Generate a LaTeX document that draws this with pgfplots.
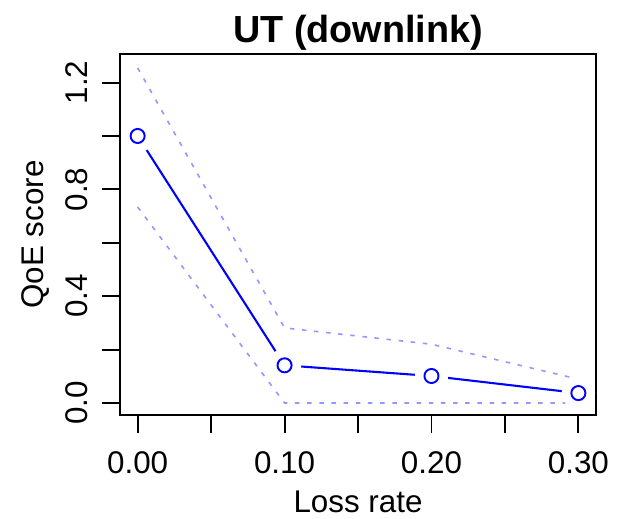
\documentclass[border=0pt]{standalone}
\usepackage{pgfplots}
\pgfplotsset{compat=1.18}
\usepackage{fontspec}
\setmainfont{Liberation Sans}
\definecolor{rblue}{RGB}{0,0,255}
\definecolor{lblue}{RGB}{150,150,255}
\begin{document}
\begin{tikzpicture}
\begin{axis}[
  scale only axis,
  width=148.75pt, height=112.8pt,
  xmin=-0.012, xmax=0.312,
  ymin=-0.045, ymax=1.307,
  axis on top,
  axis line style={line width=0.6pt},
  every tick/.style={line width=0.6pt, black},
  tick align=outside,
  major tick length=5.6pt,
  xtick pos=left, ytick pos=left,
  xtick={0,0.05,0.1,0.15,0.2,0.25,0.3},
  xticklabels={0.00,,0.10,,0.20,,0.30},
  ytick={0,0.2,0.4,0.6,0.8,1.0,1.2},
  yticklabels={0.0,,0.4,,0.8,,1.2},
  /pgf/number format/assume math mode=true,
  tick label style={font=\fontsize{9.8}{11}\selectfont, inner sep=0pt},
  xticklabel style={anchor=base},
  xticklabel shift=12.6pt,
  yticklabel style={rotate=90, anchor=base},
  yticklabel shift=4.7pt,
  every axis title/.style={at={(axis description cs:0.5,1)}, anchor=base, yshift=3.75pt, inner sep=0pt, font=\fontsize{11.8}{14}\selectfont\bfseries},
  title={UT (downlink)},
  xlabel={Loss rate},
  xlabel style={at={(axis description cs:0.5,-0.2704)}, anchor=base, inner sep=0pt, font=\fontsize{9.8}{11}\selectfont},
  ylabel={QoE score},
  ylabel style={at={(axis description cs:-0.1613,0.5)}, anchor=base, inner sep=0pt, font=\fontsize{9.8}{11}\selectfont},
]
% main line
\addplot[rblue, line width=0.65pt, no marks] coordinates {(0,1.0) (0.1,0.141) (0.2,0.101) (0.3,0.037)};
% gaps around points
\addplot[white, only marks, mark=*, mark size=5.0pt] coordinates {(0,1.0) (0.1,0.141) (0.2,0.101) (0.3,0.037)};
% upper and lower bounds
\addplot[lblue, line width=0.5pt, dash pattern=on 1.4pt off 2.4pt, no marks] coordinates {(0,1.255) (0.1,0.281) (0.2,0.22) (0.3,0.089)};
\addplot[lblue, line width=0.5pt, dash pattern=on 1.4pt off 2.4pt, no marks] coordinates {(0,0.734) (0.1,0.0) (0.2,0.0) (0.3,0.0)};
% points
\addplot[rblue, only marks, mark=o, mark size=2.2pt, mark options={draw=rblue, line width=0.6pt}] coordinates {(0,1.0) (0.1,0.141) (0.2,0.101) (0.3,0.037)};
\end{axis}
\path (current axis.south west) ++(-37.5pt,-32.5pt) coordinate (bbA);
\path (current axis.north east) ++(9.375pt,16.875pt) coordinate (bbB);
\pgfresetboundingbox
\path (bbA) rectangle (bbB);
\end{tikzpicture}
\end{document}
